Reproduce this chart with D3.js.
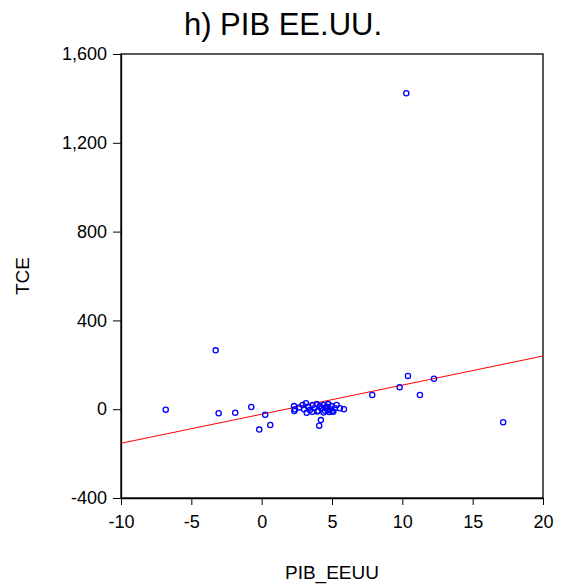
<!DOCTYPE html>
<html>
<head>
<meta charset="utf-8">
<script src="https://cdn.jsdelivr.net/npm/d3@7"></script>
<style>
  html, body { margin: 0; padding: 0; background: #fff; }
  svg { display: block; font-family: "Liberation Sans", Arial, sans-serif; }
</style>
</head>
<body>
<svg id="chart" width="561" height="586"></svg>
<script>
// ---- Data ----
const pibX = [
  -6.82, -3.27, -3.06, -1.88, -0.74, 0.25, -0.17, 0.61,
  2.30, 2.37, 2.67, 2.91, 3.01, 3.15, 3.31, 3.43, 3.62, 3.74, 3.91, 4.02,
  4.14, 4.26, 4.38, 4.50, 4.62, 4.73, 4.85, 4.98, 5.09, 5.21, 5.33, 5.56, 5.85,
  2.32, 3.20, 3.60, 4.40, 4.80, 5.00, 4.70, 3.95, 4.55,
  4.21, 4.09,
  7.86, 9.81, 10.40, 11.25, 12.25, 17.17, 10.28
];
const tceY = [
  -2, 265, -18, -16, 10, -25, -92, -71,
  14, 0, 8, 19, 0, 27, 11, -4, 19, 4, 23, -7,
  14, 4, 19, -7, 11, 23, 0, 14, -11, 4, 19, 4, 0,
  -8, -16, -12, -15, -13, -8, -5, -10, 8,
  -49, -74,
  64, 99, 150, 64, 137, -59, 1423
];
const fitIntercept = -22.5;   // fitted line
const fitSlope = 13.1;
const xTicks = [-10, -5, 0, 5, 10, 15, 20];
const yTicks = [-400, 0, 400, 800, 1200, 1600];
const xDomain = [-10, 20];
const yDomain = [-400, 1600];
const titleText = "h) PIB EE.UU.";
const xLabel = "PIB_EEUU";
const yLabel = "TCE";

// ---- Layout ----
const svg = d3.select("#chart");
const plotL = 121, plotR = 543, plotT = 54, plotB = 498;

const x = d3.scaleLinear().domain(xDomain).range([plotL, plotR]);
const y = d3.scaleLinear().domain(yDomain).range([plotB, plotT]);

// frame
svg.append("rect")
  .attr("x", plotL).attr("y", plotT)
  .attr("width", plotR - plotL).attr("height", plotB - plotT)
  .attr("fill", "none").attr("stroke", "#000").attr("stroke-width", 1.3);

// axes (hyphen-minus as in the reference)
const hy = f => v => f(v).replace("\u2212", "-");
const gx = svg.append("g").attr("transform", `translate(0,${plotB})`)
  .call(d3.axisBottom(x).tickValues(xTicks).tickFormat(hy(d3.format("d")))
        .tickSize(7).tickSizeOuter(0).tickPadding(10));
const gy = svg.append("g").attr("transform", `translate(${plotL},0)`)
  .call(d3.axisLeft(y).tickValues(yTicks).tickFormat(hy(d3.format(",")))
        .tickSize(8).tickSizeOuter(0).tickPadding(6));
[gx, gy].forEach(g => {
  g.select(".domain").attr("stroke", "#000").attr("stroke-width", 1.3);
  g.selectAll(".tick line").attr("stroke", "#000").attr("stroke-width", 1);
  g.selectAll(".tick text").attr("fill", "#000")
    .style("font-family", '"Liberation Sans", Arial, sans-serif')
    .style("font-size", "18px");
});

// fitted line
const lineData = xDomain.map(v => ({ x: v, y: fitIntercept + fitSlope * v }));
svg.append("path")
  .datum(lineData)
  .attr("fill", "none").attr("stroke", "#ff0000").attr("stroke-width", 1)
  .attr("d", d3.line().x(d => x(d.x)).y(d => y(d.y)));

// points
const pts = pibX.map((v, i) => ({ x: v, y: tceY[i] }));
svg.append("g").selectAll("circle").data(pts).join("circle")
  .attr("cx", d => x(d.x)).attr("cy", d => y(d.y)).attr("r", 2.6)
  .attr("fill", "none").attr("stroke", "#0000ff").attr("stroke-width", 1.3);

// title and axis labels
svg.append("text").attr("x", 283).attr("y", 35).attr("text-anchor", "middle")
  .style("font-size", "31px").text(titleText);
svg.append("text").attr("x", (plotL + plotR) / 2).attr("y", 579).attr("text-anchor", "middle")
  .style("font-size", "19px").text(xLabel);
svg.append("text").attr("transform", `translate(29,${(plotT + plotB) / 2}) rotate(-90)`)
  .attr("text-anchor", "middle")
  .style("font-size", "19px").text(yLabel);
</script>
</body>
</html>
